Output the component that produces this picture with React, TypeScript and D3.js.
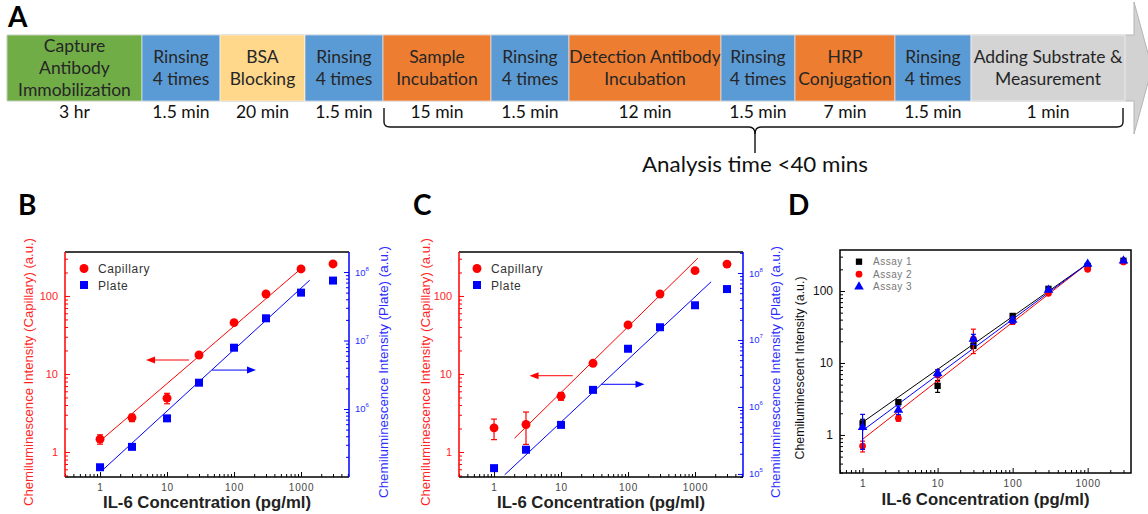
import React, { useEffect, useRef } from "react";
import * as d3 from "d3";

// ---------- Panel A: assay workflow ----------
const stepLines = [
  ["Capture", "Antibody", "Immobilization"],
  ["Rinsing", "4 times"],
  ["BSA", "Blocking"],
  ["Rinsing", "4 times"],
  ["Sample", "Incubation"],
  ["Rinsing", "4 times"],
  ["Detection Antibody", "Incubation"],
  ["Rinsing", "4 times"],
  ["HRP", "Conjugation"],
  ["Rinsing", "4 times"],
  ["Adding Substrate &", "Measurement"],
];
const stepTimes = ["3 hr", "1.5 min", "20 min", "1.5 min", "15 min", "1.5 min", "12 min", "1.5 min", "7 min", "1.5 min", "1 min"];
const stepKinds = ["coat", "rinse", "block", "rinse", "incubate", "rinse", "incubate", "rinse", "incubate", "rinse", "read"];
const analysisLabel = "Analysis time <40 mins";

// ---------- Panels B-D: calibration curves ----------
const concentrations = [1, 3, 10, 30, 100, 300, 1000, 3000];

// B: capillary (left axis) vs plate (right axis)
const capillaryB = [1.46, 2.75, 4.9, 17.5, 45.5, 106, 222, 257];
const capillaryBErr = [0.2, 0.3, 0.75, 0.6, 1.5, 3, 10, 6];
const plateB = [1.41e5, 2.8e5, 7.3e5, 2.42e6, 7.85e6, 2.11e7, 5.0e7, 7.5e7];
const fitCapillaryB = [[1, 1.38], [1000, 224]];
const fitPlateB = [[1.1, 1.29e5], [1350, 7.6e7]];

// C: spiked samples
const capillaryC = [2.04, 2.25, 5.2, 13.7, 42.5, 106, 211, 256];
const capillaryCErr = [0.6, 1.0, 0.6, 0.6, 1.5, 3, 12, 6];
const plateC = [1.22e5, 2.3e5, 5.4e5, 1.8e6, 7.4e6, 1.55e7, 3.3e7, 5.76e7];
const fitCapillaryC = [[2.02, 1.5], [1100, 305]];
const fitPlateC = [[1.44, 9.7e4], [1740, 7.4e7]];

// D: three repeated assays
const assay1 = [1.45, 2.85, 4.8, 17.4, 45, 107, 222, 263];
const assay1Err = [0.2, 0.15, 0.9, 1.5, 3, 5, 10, 5];
const assay2 = [0.7, 1.7, 6.8, 21.5, 37.5, 93, 200, 253];
const assay2Err = [0.12, 0.15, 1.3, 8, 3, 5, 10, 5];
const assay3 = [1.28, 2.22, 7.2, 21.5, 39.5, 103, 237, 263];
const assay3Err = [0.65, 0.3, 0.8, 3.5, 4, 5, 8, 5];
const fitAssay1 = [[1, 1.5], [1000, 240]];
const fitAssay2 = [[1, 0.87], [1000, 240]];
const fitAssay3 = [[1, 1.15], [1000, 240]];
const assayNames = ["Assay 1", "Assay 2", "Assay 3"];

const W = 1148;
const H = 514;
const SANS = "'Liberation Sans', Arial, sans-serif";
const FLOW_FONT = "Lato, 'Open Sans', sans-serif";
const RED = "#ff0000";
const RED_TXT = "#ff2424";
const BLUE = "#0000ff";
const BLUE_TXT = "#2c2cff";

const kindColor = {
  coat: "#70ad47",
  rinse: "#5b9bd5",
  block: "#ffd88c",
  incubate: "#ed7d31",
  read: "#d4d4d4",
};
const boxEdges = [7, 142, 220, 305, 383, 491, 569, 721, 795, 895, 971, 1125];
const boxTop = 35;
const boxBottom = 101;

const panelB = {
  letter: "B", letterX: 18,
  left: 65, top: 252, right: 349, bottom: 477,
  xDomain: [0.3, 5200], yDomain: [0.478, 366], y2Domain: [1.016e5, 1.96e8],
  cap: capillaryB, capErr: capillaryBErr, plate: plateB,
  capFit: fitCapillaryB, plateFit: fitPlateB,
  arrowL: { y: 15.1, from: 21.3, to: 4.86 },
  arrowR: { y: 3.7e6, from: 47, to: 213 },
  yTitleX: 28, y2TitleX: 383, legendDx: 19,
};
const panelC = {
  letter: "C", letterX: 413,
  left: 459, top: 252, right: 743, bottom: 477,
  xDomain: [0.3, 5200], yDomain: [0.478, 366], y2Domain: [9.0e4, 2.06e8],
  cap: capillaryC, capErr: capillaryCErr, plate: plateC,
  capFit: fitCapillaryC, plateFit: fitPlateC,
  arrowL: { y: 9.5, from: 15, to: 3.39 },
  arrowR: { y: 2.18e6, from: 39.8, to: 176 },
  yTitleX: 425, y2TitleX: 775, legendDx: 18,
};

function splitTicks(scale) {
  const all = scale.ticks();
  const isMajor = (v) => Math.abs(Math.log10(v) - Math.round(Math.log10(v))) < 1e-6;
  return { major: all.filter(isMajor), minor: all.filter((v) => !isMajor(v)) };
}

function styleAxis(sel, color, textColor, size) {
  sel.select(".domain").remove();
  sel.attr("color", color).attr("font-family", SANS).attr("font-size", size);
  sel.selectAll("line").attr("stroke-width", 1);
  sel.selectAll("text").attr("fill", textColor);
}

function rotatedTitle(g, text, x, cy, len, color, size) {
  g.append("text")
    .attr("transform", `translate(${x},${cy}) rotate(-90)`)
    .attr("text-anchor", "middle")
    .attr("dominant-baseline", "central")
    .attr("font-family", SANS)
    .attr("font-size", size)
    .attr("fill", color)
    .attr("textLength", len)
    .attr("lengthAdjust", "spacingAndGlyphs")
    .text(text);
}

function xTitle(g, cx, y) {
  g.append("text")
    .attr("x", cx)
    .attr("y", y)
    .attr("text-anchor", "middle")
    .attr("font-family", SANS)
    .attr("font-weight", "bold")
    .attr("font-size", 17)
    .attr("fill", "#222")
    .attr("textLength", 208)
    .attr("lengthAdjust", "spacingAndGlyphs")
    .text("IL-6 Concentration (pg/ml)");
}

function panelLetter(svg, letter, x, y) {
  svg.append("text")
    .attr("x", x)
    .attr("y", y)
    .attr("font-family", FLOW_FONT)
    .attr("font-weight", 700)
    .attr("font-size", 28)
    .attr("fill", "#000")
    .text(letter);
}

function bottomAxis(g, x, bottom) {
  const xt = splitTicks(x);
  g.append("g").attr("transform", `translate(0,${bottom})`)
    .call(d3.axisBottom(x).tickValues(xt.minor).tickSize(-3).tickSizeOuter(0).tickFormat(() => ""))
    .call((s) => styleAxis(s, "#000", "#444", 10));
  g.append("g").attr("transform", `translate(0,${bottom})`)
    .call(d3.axisBottom(x).tickValues(xt.major).tickSize(-5).tickSizeOuter(0).tickPadding(7).tickFormat(d3.format("d")))
    .call((s) => styleAxis(s, "#000", "#444", 10))
    .call((s) => s.selectAll("text").attr("letter-spacing", 0.8));
}

function errorBars(g, x, y, values, errs, color, capW) {
  values.forEach((v, i) => {
    const cx = x(concentrations[i]);
    const y0 = y(Math.max(v - errs[i], v * 0.05));
    const y1 = y(v + errs[i]);
    g.append("line").attr("x1", cx).attr("x2", cx).attr("y1", y0).attr("y2", y1).attr("stroke", color).attr("stroke-width", 1.2);
    [y0, y1].forEach((yy) =>
      g.append("line").attr("x1", cx - capW / 2).attr("x2", cx + capW / 2).attr("y1", yy).attr("y2", yy).attr("stroke", color).attr("stroke-width", 1.2)
    );
  });
}

function fitLine(g, x, y, pts, color) {
  g.append("path")
    .attr("d", d3.line().x((d) => x(d[0])).y((d) => y(d[1]))(pts))
    .attr("fill", "none")
    .attr("stroke", color)
    .attr("stroke-width", 1);
}

function arrow(g, x, y, a, color) {
  const yy = y(a.y);
  const x0 = x(a.from);
  const x1 = x(a.to);
  const dir = x1 > x0 ? 1 : -1;
  g.append("line").attr("x1", x0).attr("x2", x1 - dir * 7).attr("y1", yy).attr("y2", yy).attr("stroke", color).attr("stroke-width", 1);
  g.append("path")
    .attr("d", `M${x1},${yy} L${x1 - dir * 9},${yy - 3.5} L${x1 - dir * 9},${yy + 3.5} Z`)
    .attr("fill", color);
}

function drawFlow(svg) {
  const g = svg.append("g");
  const mid = (boxTop + boxBottom) / 2;
  const x0 = boxEdges[0];
  const headX = 1134;
  // big grey process arrow behind the step boxes
  g.append("path")
    .attr("d", `M${x0},${boxTop} L${headX},${boxTop} L${headX},2 L1152,${mid} L${headX},${2 * mid - 2} L${headX},${boxBottom} L${x0},${boxBottom} Z`)
    .attr("fill", "#d2d2d2")
    .attr("stroke", "#b4b4b4")
    .attr("stroke-width", 1);

  stepLines.forEach((lines, i) => {
    const a = boxEdges[i];
    const b = boxEdges[i + 1];
    const cx = (a + b) / 2;
    g.append("rect")
      .attr("x", a).attr("y", boxTop).attr("width", b - a).attr("height", boxBottom - boxTop)
      .attr("fill", kindColor[stepKinds[i]])
      .attr("stroke", "rgba(255,255,255,0.55)")
      .attr("stroke-width", 1);
    lines.forEach((t, k) => {
      g.append("text")
        .attr("x", cx)
        .attr("y", mid + (k - (lines.length - 1) / 2) * 22 + 6)
        .attr("text-anchor", "middle")
        .attr("font-family", FLOW_FONT)
        .attr("font-size", 17.5)
        .attr("fill", "#262626")
        .text(t);
    });
    g.append("text")
      .attr("x", cx)
      .attr("y", 118)
      .attr("text-anchor", "middle")
      .attr("font-family", FLOW_FONT)
      .attr("font-size", 17.5)
      .attr("fill", "#111")
      .text(stepTimes[i]);
  });

  // brace grouping the analysis steps (sample incubation -> measurement)
  const bl = boxEdges[4] + 1;
  const br = boxEdges[11] - 2;
  const bm = (boxEdges[7] + boxEdges[8]) / 2 - 3;
  const by = 127;
  const brace = [
    `M${bl},108 V${by - 5} Q${bl},${by} ${bl + 6},${by} H${bm - 6} Q${bm},${by} ${bm},${by + 7} V153`,
    `M${bm},${by + 7} Q${bm},${by} ${bm + 6},${by} H${br - 6} Q${br},${by} ${br},${by - 5} V108`,
  ];
  brace.forEach((d) =>
    g.append("path").attr("d", d).attr("fill", "none").attr("stroke", "#111").attr("stroke-width", 1.4)
  );
  g.append("text")
    .attr("x", bm)
    .attr("y", 172)
    .attr("text-anchor", "middle")
    .attr("font-family", FLOW_FONT)
    .attr("font-size", 21)
    .attr("fill", "#111")
    .attr("textLength", 226)
    .attr("lengthAdjust", "spacingAndGlyphs")
    .text(analysisLabel);

  panelLetter(svg, "A", 8, 27);
}

function drawDual(svg, p) {
  const g = svg.append("g");
  const x = d3.scaleLog().domain(p.xDomain).range([p.left, p.right]);
  const y = d3.scaleLog().domain(p.yDomain).range([p.bottom, p.top]);
  const y2 = d3.scaleLog().domain(p.y2Domain).range([p.bottom, p.top]);

  bottomAxis(g, x, p.bottom);

  const yt = splitTicks(y);
  g.append("g").attr("transform", `translate(${p.left},0)`)
    .call(d3.axisLeft(y).tickValues(yt.minor).tickSize(-3).tickSizeOuter(0).tickFormat(() => ""))
    .call((s) => styleAxis(s, RED, RED_TXT, 11));
  g.append("g").attr("transform", `translate(${p.left},0)`)
    .call(d3.axisLeft(y).tickValues(yt.major).tickSize(-5).tickSizeOuter(0).tickPadding(7).tickFormat(d3.format("d")))
    .call((s) => styleAxis(s, RED, RED_TXT, 11));

  const y2t = splitTicks(y2);
  g.append("g").attr("transform", `translate(${p.right},0)`)
    .call(d3.axisRight(y2).tickValues(y2t.minor).tickSize(-3).tickSizeOuter(0).tickFormat(() => ""))
    .call((s) => styleAxis(s, BLUE, BLUE_TXT, 9));
  g.append("g").attr("transform", `translate(${p.right},0)`)
    .call(d3.axisRight(y2).tickValues(y2t.major).tickSize(-5).tickSizeOuter(0).tickFormat(() => ""))
    .call((s) => styleAxis(s, BLUE, BLUE_TXT, 9));
  y2t.major.forEach((v) => {
    const t = g.append("text")
      .attr("x", p.right + 6)
      .attr("y", y2(v) + 3.5)
      .attr("font-family", SANS)
      .attr("font-size", 9.5)
      .attr("fill", BLUE_TXT);
    t.append("tspan").text("10");
    t.append("tspan").attr("dy", -5).attr("font-size", 6).text(String(Math.round(Math.log10(v))));
  });

  // frame
  g.append("line").attr("x1", p.left).attr("x2", p.right).attr("y1", p.top).attr("y2", p.top).attr("stroke", "#000").attr("stroke-width", 1.5);
  g.append("line").attr("x1", p.left).attr("x2", p.right).attr("y1", p.bottom).attr("y2", p.bottom).attr("stroke", "#000").attr("stroke-width", 1.5);
  g.append("line").attr("x1", p.left).attr("x2", p.left).attr("y1", p.top).attr("y2", p.bottom).attr("stroke", RED).attr("stroke-width", 1.5);
  g.append("line").attr("x1", p.right).attr("x2", p.right).attr("y1", p.top).attr("y2", p.bottom).attr("stroke", BLUE).attr("stroke-width", 1.5);

  fitLine(g, x, y, p.capFit, RED);
  fitLine(g, x, y2, p.plateFit, BLUE);
  arrow(g, x, y, p.arrowL, RED);
  arrow(g, x, y2, p.arrowR, BLUE);

  errorBars(g, x, y, p.cap, p.capErr, RED, 6);
  const circle = d3.symbol(d3.symbolCircle, 62)();
  const square = d3.symbol(d3.symbolSquare, 64)();
  p.cap.forEach((v, i) =>
    g.append("path").attr("d", circle).attr("transform", `translate(${x(concentrations[i])},${y(v)})`).attr("fill", RED)
  );
  p.plate.forEach((v, i) =>
    g.append("path").attr("d", square).attr("transform", `translate(${x(concentrations[i])},${y2(v)})`).attr("fill", BLUE)
  );

  // legend
  const lx = p.left + p.legendDx;
  [["Capillary", circle, RED], ["Plate", square, BLUE]].forEach(([name, d, c], k) => {
    const ly = p.top + 16.5 + k * 16.5;
    g.append("path").attr("d", d).attr("transform", `translate(${lx},${ly})`).attr("fill", c);
    g.append("text")
      .attr("x", lx + 14).attr("y", ly + 4.5)
      .attr("font-family", SANS).attr("font-size", 12).attr("letter-spacing", 0.6)
      .attr("fill", "#333").text(name);
  });

  rotatedTitle(g, "Chemiluminescence Intensity (Capillary) (a.u.)", p.yTitleX, 372, 268, RED_TXT, 13.5);
  rotatedTitle(g, "Chemiluminescence Intensity (Plate) (a.u.)", p.y2TitleX, 372, 252, BLUE_TXT, 13.5);
  xTitle(g, (p.left + p.right) / 2, 508);
  panelLetter(svg, p.letter, p.letterX, 215);
}

function drawAssays(svg) {
  const p = { left: 840, top: 250, right: 1131, bottom: 473 };
  const g = svg.append("g");
  const x = d3.scaleLog().domain([0.5, 3780]).range([p.left, p.right]);
  const y = d3.scaleLog().domain([0.296, 371]).range([p.bottom, p.top]);

  bottomAxis(g, x, p.bottom);
  const yt = splitTicks(y);
  g.append("g").attr("transform", `translate(${p.left},0)`)
    .call(d3.axisLeft(y).tickValues(yt.minor).tickSize(-3).tickSizeOuter(0).tickFormat(() => ""))
    .call((s) => styleAxis(s, "#000", "#111", 12));
  g.append("g").attr("transform", `translate(${p.left},0)`)
    .call(d3.axisLeft(y).tickValues(yt.major).tickSize(-5).tickSizeOuter(0).tickPadding(7).tickFormat(d3.format("d")))
    .call((s) => styleAxis(s, "#000", "#111", 12));

  g.append("rect")
    .attr("x", p.left).attr("y", p.top).attr("width", p.right - p.left).attr("height", p.bottom - p.top)
    .attr("fill", "none").attr("stroke", "#000").attr("stroke-width", 1.5);

  const series = [
    { v: assay1, e: assay1Err, fit: fitAssay1, color: "#000", sym: d3.symbol(d3.symbolSquare, 40)() },
    { v: assay2, e: assay2Err, fit: fitAssay2, color: RED, sym: d3.symbol(d3.symbolCircle, 36)() },
    { v: assay3, e: assay3Err, fit: fitAssay3, color: BLUE, sym: d3.symbol(d3.symbolTriangle, 40)() },
  ];
  series.forEach((s) => fitLine(g, x, y, s.fit, s.color));
  series.forEach((s) => {
    errorBars(g, x, y, s.v, s.e, s.color, 5);
    s.v.forEach((v, i) =>
      g.append("path").attr("d", s.sym).attr("transform", `translate(${x(concentrations[i])},${y(v)})`).attr("fill", s.color)
    );
  });

  series.forEach((s, k) => {
    const ly = p.top + 11.7 + k * 12.5;
    g.append("path").attr("d", s.sym).attr("transform", `translate(${p.left + 19},${ly})`).attr("fill", s.color);
    g.append("text")
      .attr("x", p.left + 33).attr("y", ly + 3.5)
      .attr("font-family", SANS).attr("font-size", 10).attr("letter-spacing", 0.5)
      .attr("fill", "#777").text(assayNames[k]);
  });

  rotatedTitle(g, "Chemiluminescent Intensity (a.u.)", 800, 368, 183, "#111", 12);
  xTitle(g, (p.left + p.right) / 2, 505);
  panelLetter(svg, "D", 788, 215);
}

export default function App() {
  const svgRef = useRef(null);

  useEffect(() => {
    const svg = d3.select(svgRef.current);
    svg.selectAll("*").remove();
    drawFlow(svg);
    drawDual(svg, panelB);
    drawDual(svg, panelC);
    drawAssays(svg);
  }, []);

  return (
    <svg
      ref={svgRef}
      width={W}
      height={H}
      style={{ position: "absolute", left: 0, top: 0, background: "#fff" }}
    />
  );
}
